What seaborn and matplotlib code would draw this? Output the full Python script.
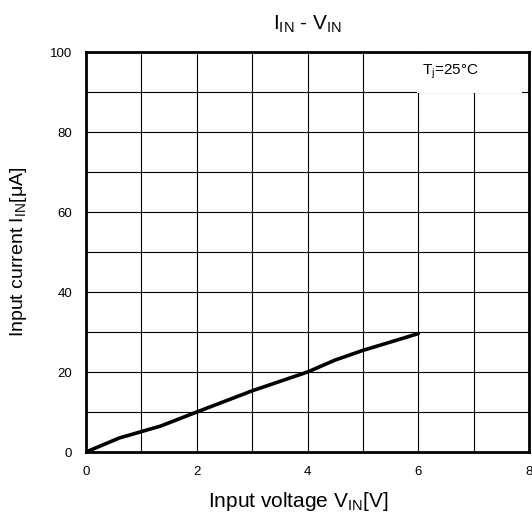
import matplotlib
matplotlib.use("Agg")
import matplotlib.pyplot as plt
from matplotlib.patches import Rectangle
from matplotlib.ticker import MultipleLocator
import seaborn as sns
import pandas as pd

# Input current vs. input voltage at Tj = 25 °C
v_in = [0.0, 0.6, 1.35, 2.0, 3.0, 4.0, 4.5, 5.0, 6.0]
i_in = [0.0, 3.5, 6.5, 10.0, 15.3, 20.0, 23.0, 25.4, 29.6]

x_ticks = [0, 2, 4, 6, 8]
y_ticks = [0, 20, 40, 60, 80, 100]

sns.set_theme(style="white")
plt.rcParams["font.family"] = ["Liberation Sans", "DejaVu Sans"]
plt.rcParams["mathtext.fontset"] = "custom"
plt.rcParams["mathtext.rm"] = "Liberation Sans"
plt.rcParams["mathtext.it"] = "Liberation Sans"
plt.rcParams["mathtext.default"] = "regular"
plt.rcParams["text.color"] = "black"
plt.rcParams["axes.labelcolor"] = "black"
plt.rcParams["xtick.color"] = "black"
plt.rcParams["ytick.color"] = "black"

df = pd.DataFrame({"V": v_in, "I": i_in})

fig = plt.figure(figsize=(5.32, 5.27), dpi=100)
ax = fig.add_axes([0.1617, 0.1423, 0.8327, 0.759])

sns.lineplot(data=df, x="V", y="I", ax=ax, color="black", linewidth=2.6,
             zorder=4, sort=False)

ax.set_xlim(0, 8)
ax.set_ylim(0, 100)
ax.set_xticks(x_ticks)
ax.set_yticks(y_ticks)
ax.xaxis.set_minor_locator(MultipleLocator(1))
ax.yaxis.set_minor_locator(MultipleLocator(10))
ax.grid(which="both", color="black", linewidth=0.8)
ax.tick_params(which="both", length=0, labelsize=9.5, colors="black")
ax.tick_params(axis="x", pad=10)
ax.tick_params(axis="y", pad=10)

for s in ax.spines.values():
    s.set_visible(True)
    s.set_color("black")
    s.set_linewidth(2.0)
    s.set_zorder(5)

# white panel behind the condition note
ax.add_patch(Rectangle((5.97, 89.7), 1.9, 9.9, facecolor="white",
                       edgecolor="none", zorder=3))
ax.text(6.06, 95, r"T$_{j}$=25°C", fontsize=11, va="center", ha="left",
        color="black", zorder=4)

ax.set_xlabel(r"Input voltage V$_{IN}$[V]", fontsize=15, color="black")
ax.set_ylabel(r"Input current I$_{IN}$[μA]", fontsize=14, color="black")
ax.xaxis.set_label_coords(0.48, -0.095)
ax.yaxis.set_label_coords(-0.128, 0.5)
ax.set_title(r"I$_{IN}$ - V$_{IN}$", fontsize=15, pad=16, color="black")

fig.savefig("out.png", dpi=100)
